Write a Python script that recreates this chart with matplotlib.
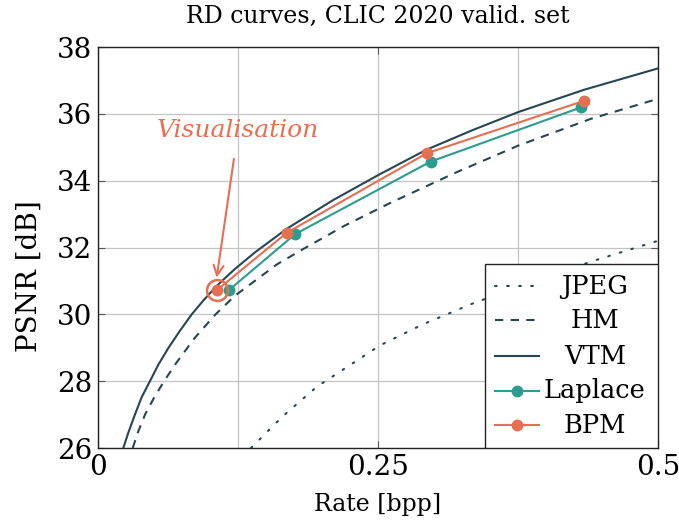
import numpy as np
import matplotlib
matplotlib.use("Agg")
import matplotlib.pyplot as plt
from matplotlib.lines import Line2D
from matplotlib.patches import Rectangle

plt.rcParams['font.family'] = ['DejaVu Serif']
plt.rcParams['mathtext.fontset'] = 'dejavuserif'

dark = '#264653'
teal = '#2a9d8f'
orange = '#e76f51'

# values
jpeg_rate = [0.1366, 0.165, 0.1953, 0.2518, 0.29, 0.335, 0.39, 0.4423, 0.5]
jpeg_psnr = [26.0, 26.95, 27.83, 29.07, 29.7, 30.33, 31.0, 31.6, 32.2]

hm_rate = [0.031, 0.036, 0.042, 0.05, 0.059, 0.07, 0.0865, 0.105, 0.122, 0.14, 0.16,
           0.183, 0.22, 0.2607, 0.32, 0.3753, 0.44, 0.5]
hm_psnr = [26.0, 26.5, 27.0, 27.5, 28.0, 28.55, 29.3, 30.0, 30.55, 31.0, 31.5,
           31.95, 32.65, 33.33, 34.25, 35.05, 35.85, 36.45]

vtm_rate = [0.0226, 0.027, 0.033, 0.039, 0.0464, 0.054, 0.063, 0.073, 0.0837, 0.095, 0.106,
            0.122, 0.14, 0.1685, 0.21, 0.252, 0.2935, 0.335, 0.375, 0.434, 0.5]
vtm_psnr = [26.0, 26.45, 27.0, 27.52, 28.0, 28.5, 29.0, 29.5, 30.0, 30.45, 30.85,
            31.35, 31.85, 32.56, 33.42, 34.2, 34.93, 35.52, 36.05, 36.72, 37.36]

laplace_rate = [0.1167, 0.176, 0.297, 0.431]
laplace_psnr = [30.72, 32.40, 34.57, 36.19]

bpm_rate = [0.106, 0.1685, 0.2935, 0.434]
bpm_psnr = [30.72, 32.44, 34.82, 36.39]

fig = plt.figure(figsize=(6.79, 5.30), dpi=100)
ax = fig.add_axes([0.1443, 0.1547, 0.8247, 0.7566])

ax.plot(jpeg_rate, jpeg_psnr, color=dark, lw=1.5, ls=(0, (0.8, 5)), dash_capstyle='round', zorder=3)
ax.plot(hm_rate, hm_psnr, color=dark, lw=1.5, ls=(0, (4, 3.5)), zorder=3)
ax.plot(vtm_rate, vtm_psnr, color=dark, lw=1.5, zorder=3)
ax.plot(laplace_rate, laplace_psnr, color=teal, lw=1.5, marker='o', ms=7.5, zorder=4)
ax.plot(bpm_rate, bpm_psnr, color=orange, lw=1.5, marker='o', ms=7.5, zorder=5)

# highlighted point
ax.plot(bpm_rate[0], bpm_psnr[0], marker='o', ms=15, mfc='none', mec=orange, mew=1.8, zorder=6)
ax.annotate('Visualisation', xy=(bpm_rate[0], bpm_psnr[0] + 0.38), xytext=(0.125, 35.49),
            color=orange, fontsize=18, style='italic', ha='center', va='center',
            arrowprops=dict(arrowstyle='->', color=orange, lw=1.5, shrinkA=10, shrinkB=0,
                            mutation_scale=18))

ax.set_xlim(0, 0.5)
ax.set_ylim(26, 38)
ax.set_xticks([0, 0.25, 0.5])
ax.set_xticklabels(['0', '0.25', '0.5'])
ax.set_xticks([0.125, 0.375], minor=True)
ax.set_yticks(np.arange(26, 39, 2))
ax.grid(True, which='both', color='#c4c4c4', lw=0.9, zorder=0)
ax.tick_params(which='both', direction='in', length=5, width=0.8, color='#555555',
               top=True, right=True, labelsize=20, pad=4)
ax.tick_params(which='minor', length=0)
for s in ax.spines.values():
    s.set_linewidth(1.0)
    s.set_color('#222222')

ax.set_title('RD curves, CLIC 2020 valid. set', fontsize=17, pad=17)
ax.set_xlabel('Rate [bpp]', fontsize=17, labelpad=9)
ax.set_ylabel('PSNR [dB]', fontsize=20)
ax.yaxis.set_label_coords(-0.098, 0.429)

# legend drawn by hand so labels are centred like the original
names = ['JPEG', 'HM', 'VTM', 'Laplace', 'BPM']
styles = [dict(color=dark, ls=(0, (0.8, 5)), dash_capstyle='round'),
          dict(color=dark, ls=(0, (4, 3.5))),
          dict(color=dark, ls='-'),
          dict(color=teal, ls='-', marker='o', ms=7.5, markevery=[1]),
          dict(color=orange, ls='-', marker='o', ms=7.5, markevery=[1])]
ax.add_patch(Rectangle((0.691, 0), 0.309, 0.459, transform=ax.transAxes, facecolor='white',
                       edgecolor='#222222', lw=1.0, zorder=7))
rows = [0.404, 0.319, 0.229, 0.143, 0.057]
for name, st, yy in zip(names, styles, rows):
    ax.add_line(Line2D([0.709, 0.7477, 0.7875], [yy, yy, yy], transform=ax.transAxes,
                       lw=1.5, zorder=8, **st))
    ax.text(0.8875, yy, name, transform=ax.transAxes, ha='center', va='center',
            fontsize=18.5, zorder=8)

fig.savefig('out.png', dpi=100)
